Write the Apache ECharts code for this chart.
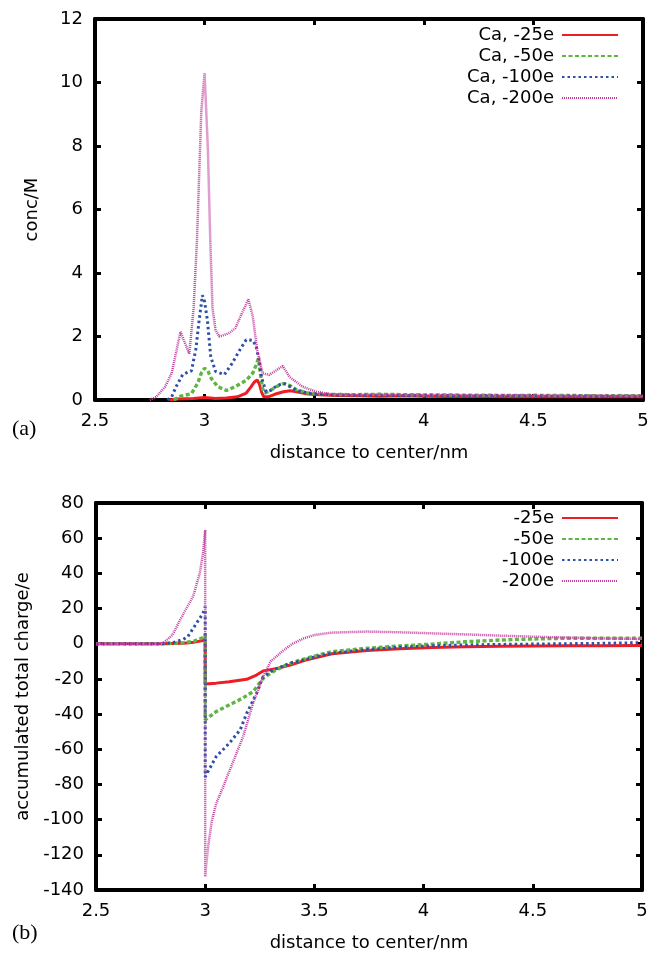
<!DOCTYPE html>
<html>
<head>
<meta charset="utf-8">
<script src="https://cdn.jsdelivr.net/npm/echarts@6/dist/echarts.min.js"></script>
<style>html,body{margin:0;padding:0;background:#fff}#c{width:652px;height:953px}</style>
</head>
<body>
<div id="c"></div>
<script>
// ---------- Panel (a): Ca concentration ----------
const seriesNamesA = ['Ca, -25e', 'Ca, -50e', 'Ca, -100e', 'Ca, -200e'];
const tailX = [3.7, 3.8, 3.9, 4.0, 4.1, 4.2, 4.3, 4.4, 4.5, 4.6, 4.7, 4.8, 4.9, 5.0];

const concRed = [[2.84,0],[2.87,0.03],[2.95,0.05],[3.0,0.08],[3.05,0.05],[3.1,0.06],[3.15,0.1],[3.19,0.22],[3.21,0.4],[3.225,0.55],[3.24,0.63],[3.25,0.5],[3.26,0.25],[3.27,0.1],[3.29,0.1],[3.32,0.18],[3.36,0.26],[3.39,0.29],[3.42,0.26],[3.46,0.2],[3.5,0.17],[3.6,0.14]];
const concRedTail = [0.13,0.12,0.13,0.12,0.11,0.12,0.11,0.1,0.11,0.1,0.1,0.11,0.1,0.1];

const concGreen = [[2.86,0],[2.89,0.12],[2.94,0.2],[2.97,0.55],[2.985,0.85],[3.0,1.0],[3.015,0.92],[3.03,0.68],[3.06,0.42],[3.1,0.3],[3.14,0.42],[3.19,0.62],[3.22,0.85],[3.235,1.1],[3.245,1.3],[3.255,0.8],[3.265,0.35],[3.275,0.22],[3.3,0.3],[3.33,0.43],[3.36,0.52],[3.39,0.45],[3.42,0.32],[3.47,0.22],[3.55,0.18],[3.65,0.17]];
const concGreenTail = [0.17,0.18,0.17,0.16,0.16,0.15,0.15,0.14,0.15,0.14,0.14,0.13,0.14,0.13];

const concBlue = [[2.83,0],[2.85,0.1],[2.87,0.42],[2.9,0.8],[2.94,0.92],[2.96,1.6],[2.975,2.5],[2.99,3.3],[3.0,3.1],[3.013,2.5],[3.028,1.36],[3.05,0.9],[3.09,0.8],[3.125,1.15],[3.16,1.57],[3.19,1.9],[3.22,1.88],[3.235,1.7],[3.25,1.2],[3.26,0.7],[3.28,0.26],[3.3,0.3],[3.33,0.45],[3.36,0.53],[3.39,0.42],[3.42,0.3],[3.49,0.2],[3.6,0.16]];
const concBlueTail = [0.15,0.15,0.14,0.15,0.14,0.13,0.14,0.13,0.13,0.12,0.13,0.12,0.12,0.12];

const concMag = [[2.75,0],[2.78,0.1],[2.82,0.42],[2.85,0.85],[2.87,1.5],[2.89,2.15],[2.91,1.8],[2.93,1.45],[2.95,2.9],[2.965,5.0],[2.985,9.1],[3.0,10.3],[3.015,7.9],[3.026,5.0],[3.036,2.9],[3.05,2.2],[3.067,2.0],[3.09,2.05],[3.11,2.1],[3.14,2.26],[3.17,2.73],[3.2,3.17],[3.22,2.62],[3.24,1.57],[3.265,0.84],[3.295,0.79],[3.33,0.95],[3.356,1.07],[3.387,0.73],[3.447,0.42],[3.51,0.26],[3.57,0.19],[3.65,0.16]];
const concMagTail = [0.16,0.17,0.16,0.15,0.16,0.15,0.14,0.15,0.14,0.14,0.13,0.14,0.13,0.13];

// ---------- Panel (b): accumulated total charge ----------
const seriesNamesB = ['-25e', '-50e', '-100e', '-200e'];

const chargeRed = [[2.5,0],[2.8,0],[2.9,0.3],[2.95,0.9],[2.99,1.8],[3.0,2.2],[3.0,-22.9],[3.05,-22.4],[3.11,-21.6],[3.19,-20.2],[3.235,-17.8],[3.265,-15.5],[3.33,-14],[3.39,-12.1],[3.46,-9.3],[3.58,-5.7],[3.74,-3.8],[3.89,-2.8],[4.04,-2.1],[4.19,-1.7],[4.35,-1.5],[4.5,-1.3],[4.65,-1.2],[4.8,-1.1],[5.0,-1.0]];

const chargeGreen = [[2.5,0],[2.8,0],[2.9,0.5],[2.95,1.5],[2.99,3.5],[3.0,5],[3.0,-43.3],[3.05,-38.6],[3.11,-34.8],[3.17,-31],[3.22,-27.2],[3.265,-19.7],[3.31,-15.9],[3.37,-12.1],[3.43,-9.5],[3.5,-7],[3.58,-4.5],[3.74,-2.6],[3.89,-1.3],[4.04,-0.2],[4.19,1.1],[4.35,2.1],[4.5,2.7],[4.65,3.1],[4.8,3.1],[5.0,3.1]];

const chargeBlue = [[2.5,0],[2.8,0],[2.85,0.5],[2.9,2.5],[2.92,4],[2.96,11.6],[2.99,17.3],[3.0,21],[3.0,-75.6],[3.05,-64.2],[3.11,-56.6],[3.16,-49],[3.19,-39.6],[3.235,-28.2],[3.265,-18.8],[3.31,-15],[3.39,-11],[3.43,-10],[3.5,-7.5],[3.58,-5.4],[3.74,-3.3],[3.89,-2],[4.04,-1.2],[4.19,-0.7],[4.35,-0.4],[4.5,-0.2],[4.8,0.2],[5.0,0.6]];

const chargeMag = [[2.5,0],[2.78,0],[2.81,0.6],[2.85,5],[2.9,17],[2.945,27],[2.975,40],[2.99,51.5],[3.0,64.6],[3.0,-132.5],[3.005,-125],[3.015,-114],[3.03,-101],[3.05,-91],[3.08,-82],[3.112,-72],[3.173,-53],[3.219,-34],[3.265,-18.8],[3.3,-10],[3.356,-4],[3.4,0],[3.45,3],[3.5,5],[3.58,6.3],[3.74,6.9],[3.89,6.5],[4.04,5.9],[4.19,5.3],[4.35,4.6],[4.5,4],[4.65,3.5],[4.8,3.1],[5.0,2.7]];

const xTicks = {min: 2.5, max: 5, interval: 0.5};
const yTicksA = {min: 0, max: 12, interval: 2};
const yTicksB = {min: -140, max: 80, interval: 20};

// ---------- styles ----------
const FONT = 'DejaVu Sans';
const styles = [
  {color: '#ee1c25', width: 3, type: 'solid'},
  {color: '#5fb541', width: 3.4, type: [4, 2.5]},
  {color: '#2f4fa6', width: 3, type: [2.5, 3]},
  {color: '#c23d9f', width: 2.5, type: [1, 1]}
];

function withTail(arr, tail) {
  return arr.concat(tailX.map((x, i) => [x, tail[i]]));
}

const dataA = [withTail(concRed, concRedTail), withTail(concGreen, concGreenTail), withTail(concBlue, concBlueTail), withTail(concMag, concMagTail)];
const dataB = [chargeRed, chargeGreen, chargeBlue, chargeMag];

const axisLine = {show: true, onZero: false, lineStyle: {color: '#000', width: 4}};
const axisTick = {show: true, inside: true, length: 6, lineStyle: {color: '#000', width: 3}};
const axisLabel = {show: true, color: '#000', fontSize: 18, fontFamily: FONT};

function xAx(grid, pos, showLabel) {
  return {
    gridIndex: grid, type: 'value', position: pos,
    min: xTicks.min, max: xTicks.max, interval: xTicks.interval,
    axisLine, axisTick,
    axisLabel: Object.assign({}, axisLabel, {show: showLabel, margin: 12}),
    splitLine: {show: false},
    name: showLabel ? 'distance to center/nm' : '',
    nameLocation: 'middle', nameGap: 44,
    nameTextStyle: {color: '#000', fontSize: 18, fontFamily: FONT}
  };
}
function yAx(grid, pos, ticks, showLabel, name) {
  return {
    gridIndex: grid, type: 'value', position: pos,
    min: ticks.min, max: ticks.max, interval: ticks.interval,
    axisLine, axisTick,
    axisLabel: Object.assign({}, axisLabel, {show: showLabel, margin: 12}),
    splitLine: {show: false},
    name: showLabel ? name : '',
    nameLocation: 'middle', nameGap: 54,
    nameTextStyle: {color: '#000', fontSize: 18, fontFamily: FONT}
  };
}

const series = [];
[dataA, dataB].forEach((set, g) => {
  const names = g === 0 ? seriesNamesA : seriesNamesB;
  set.forEach((d, i) => {
    series.push({
      type: 'line', name: names[i], xAxisIndex: g * 2, yAxisIndex: g * 2,
      data: d, symbol: 'none', showSymbol: false, smooth: false,
      lineStyle: {color: styles[i].color, width: styles[i].width, type: styles[i].type},
      itemStyle: {color: styles[i].color},
      z: 2 + i
    });
  });
});

const legendCommon = {
  orient: 'vertical', align: 'right', right: 33, padding: 0,
  itemWidth: 56, itemHeight: 10, itemGap: 3,
  itemStyle: {opacity: 0},
  textStyle: {color: '#000', fontSize: 18, fontFamily: FONT, lineHeight: 18, padding: [0, 3, 0, 0]},
  selectedMode: false
};

const option = {
  animation: false,
  backgroundColor: '#fff',
  grid: [
    {left: 95, top: 19, width: 548, height: 381},
    {left: 96, top: 503, width: 546, height: 387}
  ],
  xAxis: [xAx(0, 'bottom', true), xAx(0, 'top', false), xAx(1, 'bottom', true), xAx(1, 'top', false)],
  yAxis: [
    yAx(0, 'left', yTicksA, true, 'conc/M'), yAx(0, 'right', yTicksA, false, ''),
    yAx(1, 'left', yTicksB, true, 'accumulated total charge/e'), yAx(1, 'right', yTicksB, false, '')
  ],
  legend: [
    Object.assign({}, legendCommon, {top: 26, data: seriesNamesA}),
    Object.assign({}, legendCommon, {top: 509, data: seriesNamesB})
  ],
  graphic: [
    {type: 'text', left: 12, top: 418, style: {text: '(a)', fontSize: 22, fontFamily: 'Liberation Serif', fill: '#000'}},
    {type: 'text', left: 12, top: 922, style: {text: '(b)', fontSize: 22, fontFamily: 'Liberation Serif', fill: '#000'}}
  ],
  series
};

const chart = echarts.init(document.getElementById('c'), null, {renderer: 'canvas'});
chart.setOption(option);
</script>
</body>
</html>
